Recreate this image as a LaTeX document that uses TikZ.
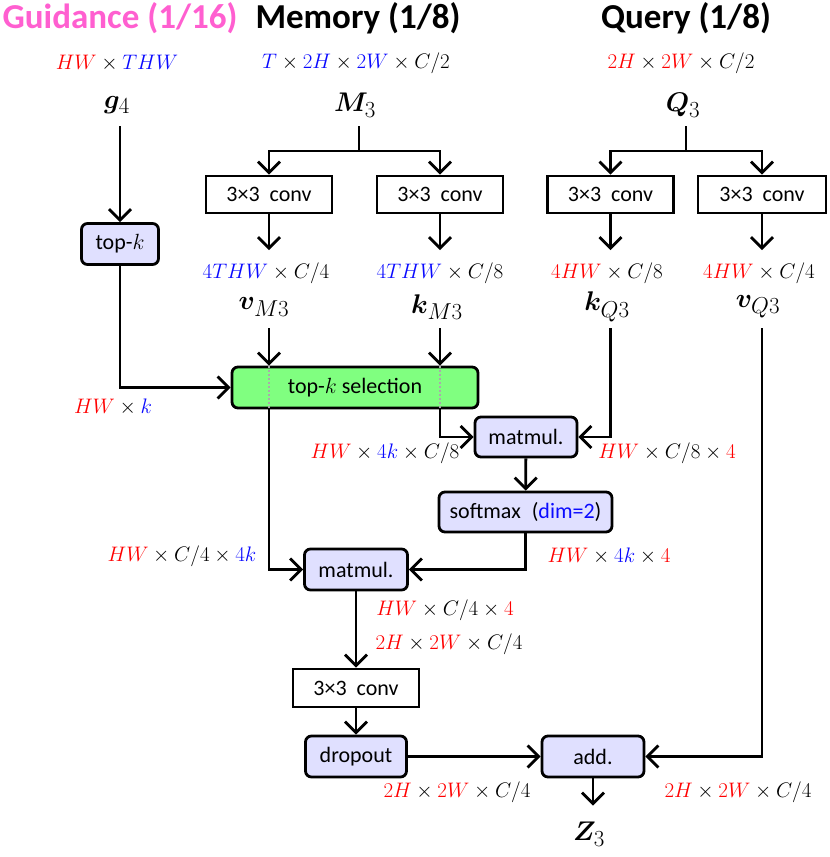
\documentclass[tikz,border=0pt]{standalone}
\usepackage{fix-cm}
\usepackage{amsmath,bm}
\usepackage{fontspec}
\setmainfont{Carlito}
\usetikzlibrary{arrows.meta,positioning}
\definecolor{guidepink}{RGB}{255, 95, 208}
\definecolor{dimred}{RGB}{255, 0, 0}
\definecolor{dimblue}{RGB}{10, 10, 255}
\definecolor{oplav}{RGB}{224, 224, 255}
\definecolor{selgreen}{RGB}{128, 255, 128}
\definecolor{dotgray}{RGB}{170, 170, 170}
\newcommand{\rdim}[1]{{\color{dimred}#1}}
\newcommand{\bdim}[1]{{\color{dimblue}#1}}
\newcommand{\varsub}[1]{\mbox{\fontsize{23}{25}\selectfont$#1$}}
\begin{document}
\begin{tikzpicture}[x=1pt, y=-1pt, line width=2.8pt, font=\fontsize{21}{25}\selectfont,
    >={Straight Barb[length=11pt,width=22pt]},
    ttl/.style={inner sep=0pt, font=\fontsize{35}{40}\selectfont\bfseries},
    lbl/.style={inner sep=0pt},
    var/.style={inner sep=0pt, minimum height=40pt, font=\fontsize{27}{30}\selectfont},
    convbox/.style={draw, fill=white, inner sep=0pt, minimum width=126pt, minimum height=37pt, font=\fontsize{22}{26}\selectfont},
    opbox/.style={draw, rounded corners=6pt, fill=oplav, inner sep=0pt, minimum height=41pt, font=\fontsize{22}{26}\selectfont}]
        \useasboundingbox (0,0) rectangle (830,857);
        \node[ttl,text=guidepink] (tg) at (120,18) {Guidance (1/16)};
        \node[ttl] (tm) at (358,18) {Memory (1/8)};
        \node[ttl] (tq) at (686,18) {Query (1/8)};
        \node[lbl] (dg) at (117,63) {$\rdim{HW}\times\bdim{THW}$};
        \node[lbl] (dm) at (356,63) {$\bdim{T}\times\bdim{2H}\times\bdim{2W}\times C/2$};
        \node[lbl] (dq) at (681,63) {$\rdim{2H}\times\rdim{2W}\times C/2$};
        \node[var] (g) at (117,105) {$\bm{g}_{\varsub{4}}$};
        \node[var] (M) at (355,105) {$\bm{M}_{\varsub{3}}$};
        \node[var] (Q) at (683,105) {$\bm{Q}_{\varsub{3}}$};
        \coordinate (msplit) at (359,151);
        \coordinate (qsplit) at (686,151);
        \node[opbox,minimum width=77pt] (topk) at (120,244) {top-$k$};
        \node[convbox] (cvm) at (269,194.5) {3×3~~conv};
        \node[convbox] (ckm) at (440,194.5) {3×3~~conv};
        \node[convbox] (ckq) at (610.5,194.5) {3×3~~conv};
        \node[convbox,minimum width=128pt] (cvq) at (762,194.5) {3×3~~conv};
        \node[lbl] (dvm) at (266,273) {$\bdim{4THW}\times C/4$};
        \node[lbl] (dkm) at (440,273) {$\bdim{4THW}\times C/8$};
        \node[lbl] (dkq) at (607,273) {$\rdim{4HW}\times C/8$};
        \node[lbl] (dvq) at (759,273) {$\rdim{4HW}\times C/4$};
        \node[var] (vm) at (264,307) {$\bm{v}_{\varsub{M3}}$};
        \node[var] (km) at (437,307) {$\bm{k}_{\varsub{M3}}$};
        \node[var] (kq) at (607,307) {$\bm{k}_{\varsub{Q3}}$};
        \node[var] (vq) at (758,307) {$\bm{v}_{\varsub{Q3}}$};
        \node[opbox,fill=selgreen,minimum width=246pt] (sel) at (355,387.5) {top-$k$ selection};
        \node[opbox,minimum width=102pt,minimum height=40pt] (mm1) at (526,437) {matmul.};
        \node[opbox,minimum width=173pt,minimum height=40pt] (soft) at (525.5,512) {softmax\enspace(\textcolor{dimblue}{dim=2})};
        \node[opbox,minimum width=103pt] (mm2) at (356,569.5) {matmul.};
        \node[convbox,minimum height=38pt] (cv3) at (356,688) {3×3~~conv};
        \node[opbox,minimum width=101pt] (drop) at (356,756.5) {dropout};
        \node[opbox,minimum width=102pt] (add) at (593,756.5) {add.};
        \node[var] (Z) at (589,834) {$\bm{Z}_{\varsub{3}}$};
        \node[lbl] (dsel) at (113,407) {$\rdim{HW}\times\bdim{k}$};
        \node[lbl] (dmk) at (385,453) {$\rdim{HW}\times\bdim{4k}\times C/8$};
        \node[lbl] (dmq) at (667,453) {$\rdim{HW}\times C/8\times\rdim{4}$};
        \node[lbl] (dmv) at (182,556) {$\rdim{HW}\times C/4\times\bdim{4k}$};
        \node[lbl] (dsm) at (609,556) {$\rdim{HW}\times\bdim{4k}\times\rdim{4}$};
        \node[lbl] (dout) at (445,610) {$\rdim{HW}\times C/4\times\rdim{4}$};
        \node[lbl] (dres) at (449,644) {$\rdim{2H}\times\rdim{2W}\times C/4$};
        \node[lbl] (ddrop) at (457,792) {$\rdim{2H}\times\rdim{2W}\times C/4$};
        \node[lbl] (dadd) at (738,792) {$\rdim{2H}\times\rdim{2W}\times C/4$};
        \draw[->] (topk |- g.south) -- (topk);
        \draw (msplit |- M.south) -- (msplit);
        \draw[->] (msplit) -| (cvm);
        \draw[->] (msplit) -| (ckm);
        \draw (qsplit |- Q.south) -- (qsplit);
        \draw[->] (qsplit) -| (ckq);
        \draw[->] (qsplit) -| (cvq);
        \draw[->,shorten >=11pt] (cvm) -- (cvm |- dvm.north);
        \draw[->,shorten >=11pt] (ckm) -- (ckm |- dkm.north);
        \draw[->,shorten >=11pt] (ckq) -- (ckq |- dkq.north);
        \draw[->,shorten >=11pt] (cvq) -- (cvq |- dvq.north);
        \draw[->] (cvm |- vm.south) -- (cvm |- sel.north);
        \draw[->] (ckm |- km.south) -- (ckm |- sel.north);
        \draw[dotgray,dotted,line width=2pt] (cvm |- sel.north) -- (cvm |- sel.south);
        \draw[dotgray,dotted,line width=2pt] (ckm |- sel.north) -- (ckm |- sel.south);
        \draw[->] (topk) |- (sel);
        \draw[->] (ckm |- sel.south) |- (mm1);
        \draw[->] (ckq |- kq.south) |- (mm1);
        \draw[->] (mm1) -- (soft);
        \draw[->] (cvm |- sel.south) |- (mm2);
        \draw[->] (soft) |- (mm2);
        \draw[->] (mm2) -- (cv3);
        \draw[->] (cv3) -- (drop);
        \draw[->] (drop) -- (add);
        \draw[->] (cvq |- vq.south) |- (add);
        \draw[->,shorten >=7pt] (add) -- (add |- Z.north);
      \end{tikzpicture}
\end{document}
